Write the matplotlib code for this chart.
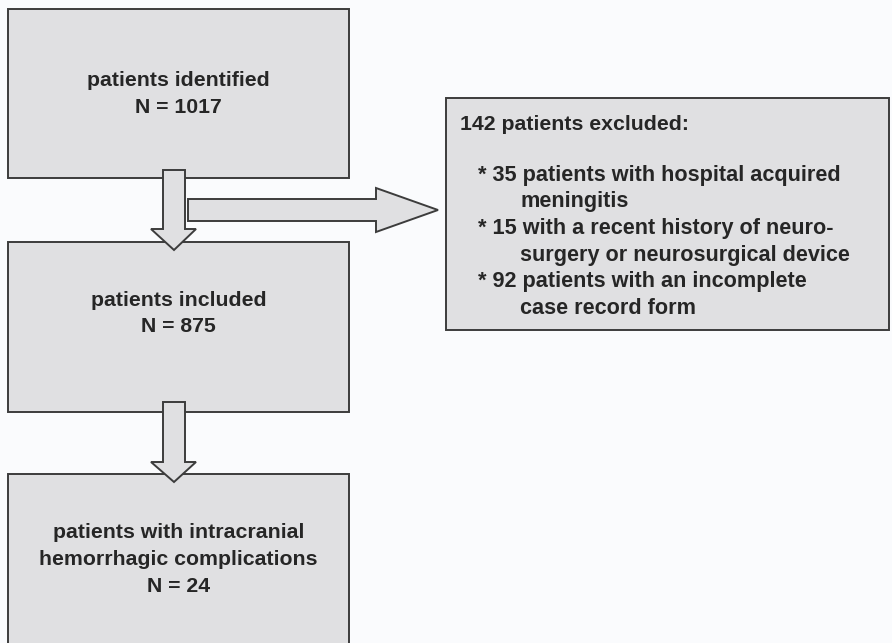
import matplotlib
matplotlib.use("Agg")
import matplotlib.pyplot as plt
from matplotlib.patches import Rectangle, Polygon

# Flowchart content
box_labels = [
    ["patients identified", "N = 1017"],
    ["patients included", "N = 875"],
    ["patients with intracranial", "hemorrhagic complications", "N = 24"],
]
excluded_title = "142 patients excluded:"
excluded_items = [
    ("* 35 patients with hospital acquired", "meningitis"),
    ("* 15 with a recent history of neuro-", "surgery or neurosurgical device"),
    ("* 92 patients with an incomplete", "case record form"),
]

BG = "#fafbfd"
FILL = "#e0e0e2"
EDGE = "#3c3c3c"
TXT = "#262626"
FONT = "Liberation Sans"
FS = 15.3
FS_LIST = 15.6
LINE = 26.7

fig = plt.figure(figsize=(8.92, 6.43), dpi=100, facecolor=BG)
ax = fig.add_axes([0, 0, 1, 1])
ax.set_xlim(0, 892)
ax.set_ylim(643, 0)
ax.axis("off")
ax.set_facecolor(BG)

# left column boxes (x, y_top, w, h) and y of first text line
boxes = [(8, 9, 341, 169), (8, 242, 341, 170), (8, 474, 341, 175)]
first_line = [81, 300, 533]
for (x, y, w, h), lines, y0 in zip(boxes, box_labels, first_line):
    ax.add_patch(Rectangle((x, y), w, h, facecolor=FILL, edgecolor=EDGE, lw=1.4, zorder=1))
    for i, s in enumerate(lines):
        ax.text(x + w / 2, y0 + i * LINE, s, ha="center", va="center", fontsize=FS,
                fontweight="bold", color=TXT, family=FONT, zorder=3)

# excluded box
ax.add_patch(Rectangle((446, 98), 443, 232, facecolor=FILL, edgecolor=EDGE, lw=1.4, zorder=1))
ax.text(460, 124, excluded_title, ha="left", va="center", fontsize=FS,
        fontweight="bold", color=TXT, family=FONT, zorder=3)
y = 175
for first, second in excluded_items:
    ax.text(478, y, first, ha="left", va="center", fontsize=FS_LIST,
            fontweight="bold", color=TXT, family=FONT, zorder=3)
    ax.text(520, y + LINE, second, ha="left", va="center", fontsize=FS_LIST,
            fontweight="bold", color=TXT, family=FONT, zorder=3)
    y += 2 * LINE

# block arrows
def down_arrow(x0, x1, top, head_y, hx0, hx1, tip):
    pts = [(x0, top), (x1, top), (x1, head_y), (hx1, head_y),
           ((x0 + x1) / 2, tip), (hx0, head_y), (x0, head_y)]
    ax.add_patch(Polygon(pts, closed=True, facecolor=FILL, edgecolor=EDGE, lw=1.4, zorder=2))

down_arrow(163, 185, 170, 229, 151, 196, 250)
down_arrow(163, 185, 402, 462, 151, 196, 482)

right = [(188, 199), (376, 199), (376, 188), (438, 210), (376, 232), (376, 221), (188, 221)]
ax.add_patch(Polygon(right, closed=True, facecolor=FILL, edgecolor=EDGE, lw=1.4, zorder=2))

fig.savefig("out.png", dpi=100, facecolor=BG)
